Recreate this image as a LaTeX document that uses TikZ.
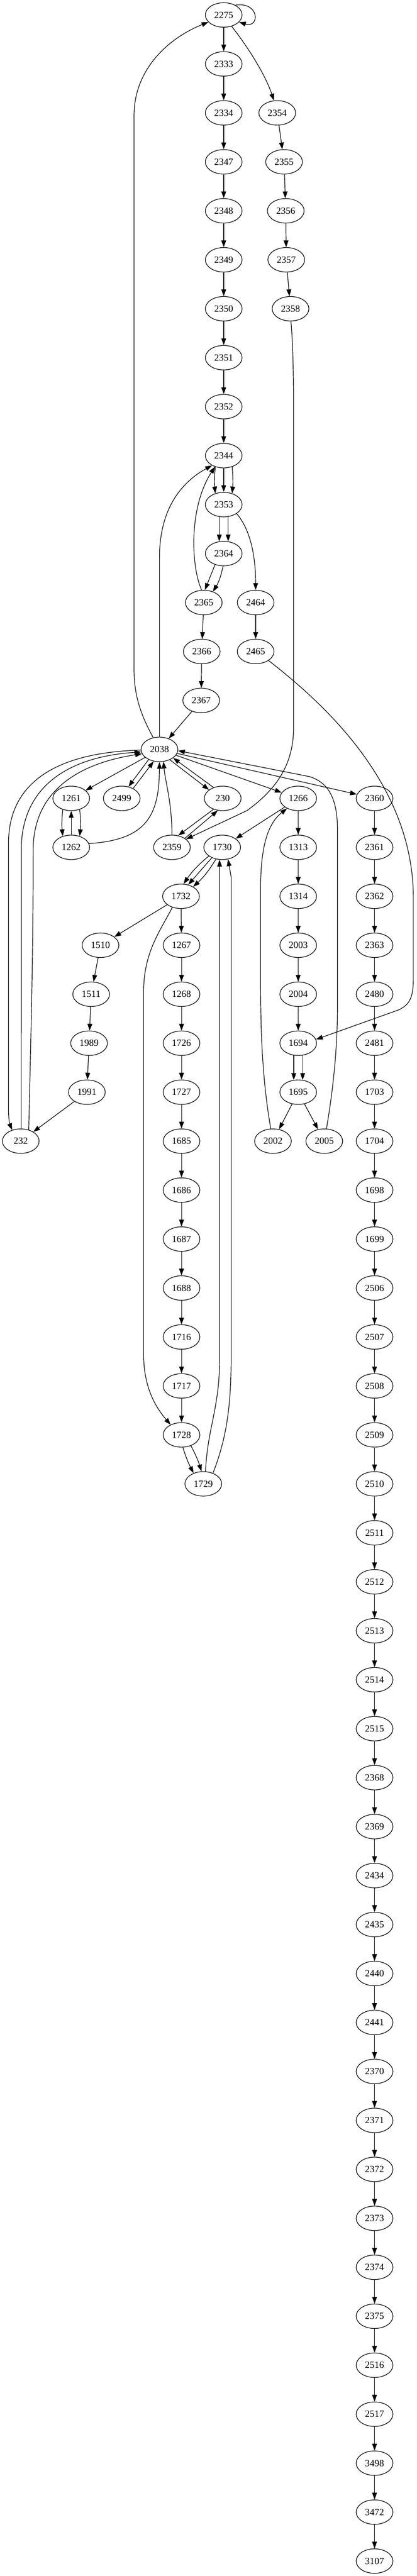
\documentclass[tikz,border=0pt]{standalone}
\usepackage{fontspec}
\setmainfont{Liberation Serif}
\usetikzlibrary{arrows.meta,shapes.geometric}
\tikzset{
	vtx/.style={draw, ellipse, minimum width=54pt, minimum height=36pt, inner sep=0pt, line width=0.9pt, font=\fontsize{14}{16}\selectfont},
	link/.style={line width=0.9pt, -{Triangle[length=10pt,width=7pt]}}
}

\begin{document}
\begin{tikzpicture}[x=1pt, y=1pt]
			%%%%% START %%%%%
			\useasboundingbox (0, 0) rectangle (612.75, -3788);
			
			% main column
			\node[vtx] (n2275) at (328.8, -22) {2275};
			\node[vtx] (n2333) at (328.8, -94) {2333};
			\node[vtx] (n2334) at (328.8, -166) {2334};
			\node[vtx] (n2347) at (328.8, -238) {2347};
			\node[vtx] (n2348) at (328.8, -310) {2348};
			\node[vtx] (n2349) at (328.8, -382) {2349};
			\node[vtx] (n2350) at (328.8, -454) {2350};
			\node[vtx] (n2351) at (328.8, -526) {2351};
			\node[vtx] (n2352) at (328.8, -598) {2352};
			\node[vtx] (n2344) at (328.8, -670) {2344};
			\node[vtx] (n2353) at (328.8, -742) {2353};
			\node[vtx] (n2364) at (328.8, -814) {2364};
			\node[vtx] (n2365) at (299.5, -886) {2365};
			\node[vtx] (n2366) at (296.5, -958) {2366};
			\node[vtx] (n2367) at (295.7, -1030) {2367};
			\node[vtx] (n2038) at (234.4, -1102) {2038};
			
			\node[vtx] (n2354) at (407.5, -166) {2354};
			\node[vtx] (n2355) at (417.5, -238) {2355};
			\node[vtx] (n2356) at (420, -310) {2356};
			\node[vtx] (n2357) at (420.75, -382) {2357};
			\node[vtx] (n2358) at (427, -454) {2358};
			\node[vtx] (n2464) at (375.75, -886) {2464};
			\node[vtx] (n2465) at (375.75, -958) {2465};
			
			% below 2038
			\node[vtx] (n1261) at (104.7, -1174) {1261};
			\node[vtx] (n2499) at (178.9, -1174) {2499};
			\node[vtx] (n230) at (327.3, -1174) {230};
			\node[vtx] (n1266) at (438.3, -1174) {1266};
			\node[vtx] (n1262) at (104.7, -1246) {1262};
			\node[vtx] (n2359) at (252.7, -1246) {2359};
			\node[vtx] (n1730) at (326.6, -1246) {1730};
			\node[vtx] (n1313) at (438.3, -1246) {1313};
			\node[vtx] (n1732) at (266, -1318) {1732};
			\node[vtx] (n1314) at (438.3, -1318) {1314};
			
			\node[vtx] (n1510) at (147.7, -1390) {1510};
			\node[vtx] (n1511) at (134, -1462) {1511};
			\node[vtx] (n1989) at (130.9, -1534) {1989};
			\node[vtx] (n1991) at (127.7, -1606) {1991};
			\node[vtx] (n232) at (30.5, -1678) {232};
			
			\node[vtx] (n1267) at (266.8, -1390) {1267};
			\node[vtx] (n1268) at (266.8, -1462) {1268};
			\node[vtx] (n1726) at (266.8, -1534) {1726};
			\node[vtx] (n1727) at (266.8, -1606) {1727};
			\node[vtx] (n1685) at (266.8, -1678) {1685};
			\node[vtx] (n1686) at (266.8, -1750) {1686};
			\node[vtx] (n1687) at (266.8, -1822) {1687};
			\node[vtx] (n1688) at (266.8, -1894) {1688};
			\node[vtx] (n1716) at (266.8, -1966) {1716};
			\node[vtx] (n1717) at (266.8, -2038) {1717};
			\node[vtx] (n1728) at (266.8, -2110) {1728};
			\node[vtx] (n1729) at (298.8, -2182) {1729};
			
			\node[vtx] (n2003) at (438.3, -1390) {2003};
			\node[vtx] (n2004) at (438.3, -1462) {2004};
			\node[vtx] (n1694) at (438.3, -1534) {1694};
			\node[vtx] (n1695) at (438.3, -1606) {1695};
			\node[vtx] (n2002) at (401.2, -1678) {2002};
			\node[vtx] (n2005) at (476.6, -1678) {2005};
			
			% right column
			\node[vtx] (n2360) at (550.5, -1174) {2360};
			\node[vtx] (n2361) at (550.5, -1246) {2361};
			\node[vtx] (n2362) at (550.5, -1318) {2362};
			\node[vtx] (n2363) at (550.5, -1390) {2363};
			\node[vtx] (n2480) at (550.5, -1462) {2480};
			\node[vtx] (n2481) at (550.5, -1534) {2481};
			\node[vtx] (n1703) at (550.5, -1606) {1703};
			\node[vtx] (n1704) at (550.5, -1678) {1704};
			\node[vtx] (n1698) at (550.5, -1750) {1698};
			\node[vtx] (n1699) at (550.5, -1822) {1699};
			\node[vtx] (n2506) at (550.5, -1894) {2506};
			\node[vtx] (n2507) at (550.5, -1966) {2507};
			\node[vtx] (n2508) at (550.5, -2038) {2508};
			\node[vtx] (n2509) at (550.5, -2110) {2509};
			\node[vtx] (n2510) at (550.5, -2182) {2510};
			\node[vtx] (n2511) at (550.5, -2254) {2511};
			\node[vtx] (n2512) at (550.5, -2326) {2512};
			\node[vtx] (n2513) at (550.5, -2398) {2513};
			\node[vtx] (n2514) at (550.5, -2470) {2514};
			\node[vtx] (n2515) at (550.5, -2542) {2515};
			\node[vtx] (n2368) at (550.5, -2614) {2368};
			\node[vtx] (n2369) at (550.5, -2686) {2369};
			\node[vtx] (n2434) at (550.5, -2758) {2434};
			\node[vtx] (n2435) at (550.5, -2830) {2435};
			\node[vtx] (n2440) at (550.5, -2902) {2440};
			\node[vtx] (n2441) at (550.5, -2974) {2441};
			\node[vtx] (n2370) at (550.5, -3046) {2370};
			\node[vtx] (n2371) at (550.5, -3118) {2371};
			\node[vtx] (n2372) at (550.5, -3190) {2372};
			\node[vtx] (n2373) at (550.5, -3262) {2373};
			\node[vtx] (n2374) at (550.5, -3334) {2374};
			\node[vtx] (n2375) at (550.5, -3406) {2375};
			\node[vtx] (n2516) at (550.5, -3478) {2516};
			\node[vtx] (n2517) at (550.5, -3550) {2517};
			\node[vtx] (n3498) at (550.5, -3622) {3498};
			\node[vtx] (n3472) at (550.5, -3694) {3472};
			\node[vtx] (n3107) at (550.5, -3766) {3107};
			
			% straight links
			\foreach \a/\b in {2275/2333, 2333/2334, 2334/2347, 2347/2348, 2348/2349, 2349/2350, 2350/2351, 2351/2352, 2352/2344, 2344/2353,
				2354/2355, 2355/2356, 2356/2357, 2357/2358, 2464/2465, 2365/2366, 2366/2367, 2367/2038,
				2038/1261, 2038/1266, 2038/2360, 1262/1261, 1266/1730, 1266/1313, 1313/1314, 1314/2003, 2003/2004, 2004/1694,
				1695/2002, 1695/2005, 1732/1510, 1732/1267, 1510/1511, 1511/1989, 1989/1991, 1991/232,
				1267/1268, 1268/1726, 1726/1727, 1727/1685, 1685/1686, 1686/1687, 1687/1688, 1688/1716, 1716/1717, 1717/1728,
				2360/2361, 2361/2362, 2362/2363, 2363/2480, 2480/2481, 2481/1703, 1703/1704, 1704/1698, 1698/1699, 1699/2506,
				2506/2507, 2507/2508, 2508/2509, 2509/2510, 2510/2511, 2511/2512, 2512/2513, 2513/2514, 2514/2515, 2515/2368,
				2368/2369, 2369/2434, 2434/2435, 2435/2440, 2440/2441, 2441/2370, 2370/2371, 2371/2372, 2372/2373, 2373/2374,
				2374/2375, 2375/2516, 2516/2517, 2517/3498, 3498/3472, 3472/3107}
				\draw[link] (n\a) -- (n\b);
			
			% top
			\draw[link] (n2275.40) .. controls (382, -2) and (382, -42) .. (n2275.-25);
			\draw[link] (n2275.-55) .. controls (365, -70) and (390, -110) .. (n2354.105);
			\draw[link] (n2344.-127) to[bend right=5] (n2353.127);
			\draw[link] (n2344.-53) to[bend left=5] (n2353.53);
			\draw[link] (n2353.-110) -- (n2364.110);
			\draw[link] (n2353.-70) -- (n2364.70);
			\draw[link] (n2353.-35) .. controls (365, -775) and (375.75, -810) .. (n2464.north);
			\draw[link] (n2364.-128) -- (n2365.85);
			\draw[link] (n2364.-93) to[bend left=10] (n2365.50);
			\draw[link] (n2365.100) .. controls (280, -830) and (278, -745) .. (n2344.-128);
			
			% back to the top
			\draw[link] (n2038.north) -- (234.4, -820) .. controls (234.4, -750) and (265, -710) .. (n2344.-140);
			\draw[link] (n2038.118) .. controls (212, -1060) and (197, -1030) .. (197, -985) -- (197, -170) .. controls (197, -100) and (250, -55) .. (n2275.205);
			
			% long ones
			\draw[link] (n2358.-88) .. controls (430, -500) and (431.5, -540) .. (431.5, -600) -- (431.5, -1070) .. controls (431.5, -1130) and (400, -1165) .. (363, -1192) -- (n2359.30);
			\draw[link] (n2465.-35) .. controls (470, -1030) and (607.5, -1150) .. (607.5, -1320) -- (607.5, -1440) .. controls (607.5, -1470) and (600, -1478) .. (586, -1485) -- (n1694.12);
			\draw[link] (n2005.80) .. controls (490, -1600) and (496, -1540) .. (496, -1480) -- (496, -1220) .. controls (496, -1170) and (480, -1150) .. (455, -1142) -- (n2038.-4);
			\draw[link] (n2002.100) .. controls (384, -1580) and (383, -1500) .. (383, -1440) -- (383, -1300) .. controls (384, -1240) and (395, -1210) .. (n1266.-138);
			
			% around 2038
			\draw[link] (n2038.-137) -- (n2499.60);
			\draw[link] (n2499.41) -- (n2038.-116);
			\draw[link] (n2038.-45) -- (n230.148);
			\draw[link] (n230.130) -- (n2038.-32);
			\draw[link] (n230.-130) -- (n2359.62);
			\draw[link] (n2359.35) -- (n230.-112);
			\draw[link] (n2359.north) .. controls (252.7, -1180) and (243, -1150) .. (n2038.-72);
			\draw[link] (n1262.12) .. controls (215, -1235) and (234, -1200) .. (n2038.south);
			\draw[link] (n1261.-127) to[bend right=6] (n1262.127);
			\draw[link] (n1261.-53) to[bend left=6] (n1262.53);
			
			% 232
			\draw[link] (n2038.182) .. controls (100, -1106) and (12.5, -1140) .. (12.5, -1240) -- (12.5, -1630) .. controls (12.5, -1645) and (14, -1652) .. (n232.128);
			\draw[link] (n232.88) -- (31.25, -1250) .. controls (31.25, -1150) and (110, -1112) .. (n2038.188);
			\draw[link] (n232.55) .. controls (46, -1500) and (48.75, -1400) .. (48.75, -1250) .. controls (48.75, -1160) and (120, -1122) .. (n2038.194);
			
			% 1730 / 1732 / 1728 / 1729
			\draw[link] (n1730.-147) to[bend right=8] (n1732.78);
			\draw[link] (n1730.-135) -- (n1732.58);
			\draw[link] (n1730.-118) to[bend left=8] (n1732.38);
			\draw[link] (n1732.-128) .. controls (235, -1370) and (211, -1400) .. (211, -1460) -- (211, -1990) .. controls (211, -2035) and (225, -2065) .. (n1728.137);
			\draw[link] (n1728.-84) to[bend right=5] (n1729.132);
			\draw[link] (n1728.-49) to[bend left=5] (n1729.98);
			\draw[link] (n1729.80) .. controls (305, -2100) and (322.7, -2070) .. (322.7, -2000) -- (n1730.-102);
			\draw[link] (n1729.48) .. controls (335, -2110) and (339.8, -2060) .. (339.8, -1990) -- (339.8, -1290) -- (n1730.-64);
			
			% 1694 / 1695
			\draw[link] (n1694.-110) -- (n1695.110);
			\draw[link] (n1694.-70) -- (n1695.70);
			
			%%%%% END %%%%%
\end{tikzpicture}
\end{document}
